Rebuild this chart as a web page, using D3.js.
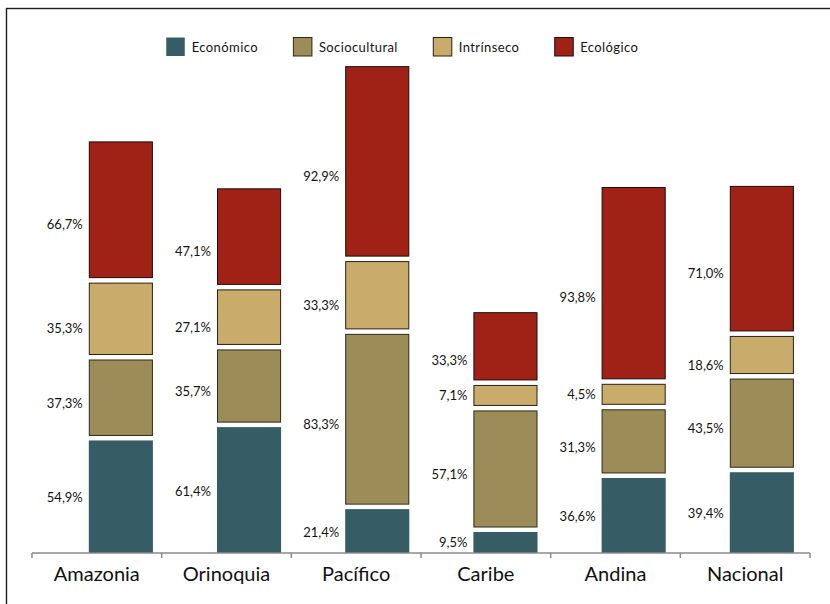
<!DOCTYPE html>
<html>
<head>
<meta charset="utf-8">
<script src="https://cdn.jsdelivr.net/npm/d3@7/dist/d3.min.js"></script>
<style>
  html, body { margin: 0; padding: 0; background: #fff; }
  svg { display: block; }
</style>
</head>
<body>
<svg id="chart" width="830" height="604"></svg>
<script>
// ---- data ----
const categories = ["Amazonia", "Orinoquia", "Pacífico", "Caribe", "Andina", "Nacional"];
const seriesNames = ["Económico", "Sociocultural", "Intrínseco", "Ecológico"];
const economico     = [54.9, 61.4, 21.4,  9.5, 36.6, 39.4];
const sociocultural = [37.3, 35.7, 83.3, 57.1, 31.3, 43.5];
const intrinseco    = [35.3, 27.1, 33.3,  7.1,  4.5, 18.6];
const ecologico     = [66.7, 47.1, 92.9, 33.3, 93.8, 71.0];

const seriesValues = [economico, sociocultural, intrinseco, ecologico];
const colors  = ["#365c65", "#9c8d58", "#c9ab6b", "#a02216"];
const strokes = [null, "#2e2818", "#2a2212", "#1a0c0a"];

// ---- layout ----
const svg = d3.select("#chart");
const baseY = 553;
const pxPerUnit = 2.05;
const gap = 4.5;          // white gap between stacked segments
const minSegPx = 21;      // minimum visible segment height

const y = d3.scaleLinear().domain([0, 250]).range([baseY, baseY - 250 * pxPerUnit]);
const xAxisBand = d3.scaleBand().domain(categories).range([32, 810]);
const xBar = d3.scaleBand().domain(categories)
  .range([88.8, 88.8 + 5.5 * 128.2]).paddingInner(0.5).paddingOuter(0).align(0);

const minVal = y.invert(baseY - minSegPx);

// rows for the stack (drawn values, with a minimum visible size)
const rows = categories.map((c, ci) => {
  const r = { cat: c };
  seriesNames.forEach((s, si) => { r[s] = Math.max(seriesValues[si][ci], minVal); });
  return r;
});
const stacked = d3.stack().keys(seriesNames)(rows);

// frame
svg.append("rect")
  .attr("x", 6.5).attr("y", 8.5).attr("width", 900).attr("height", 900)
  .attr("fill", "none").attr("stroke", "#1e1e1e").attr("stroke-width", 1.4);

// bars
stacked.forEach((layer, si) => {
  const g = svg.append("g");
  layer.forEach((d, ci) => {
    const cat = categories[ci];
    const x0 = xBar(cat), w = xBar.bandwidth();
    const top = y(d[1]) - si * gap;
    const bottom = y(d[0]) - si * gap;
    const st = strokes[si];
    const inset = st ? 0.5 : 0;
    g.append("rect")
      .attr("x", x0 + inset).attr("y", top + inset)
      .attr("width", w - 2 * inset).attr("height", bottom - top - 2 * inset)
      .attr("fill", colors[si])
      .attr("stroke", st || "none")
      .attr("stroke-width", st ? 1 : 0);
    // value label
    const v = seriesValues[si][ci];
    const enlarged = v < minVal;
    const ly = enlarged ? (top + bottom) / 2 : y((d[0] + d[1]) / 2) + 1;
    svg.append("text")
      .attr("x", x0 - 6)
      .attr("y", ly)
      .attr("dy", "0.36em")
      .attr("text-anchor", "end")
      .attr("font-family", "Lato, 'Open Sans', sans-serif")
      .attr("font-size", 13)
      .attr("fill", "#141414")
      .text(v.toFixed(1).replace(".", ",") + "%");
  });
});

// axis
const axisG = svg.append("g");
axisG.append("line")
  .attr("x1", xAxisBand.range()[0]).attr("x2", xAxisBand.range()[1])
  .attr("y1", baseY).attr("y2", baseY)
  .attr("stroke", "#8a8a8a").attr("stroke-width", 1.5);
const tickXs = categories.map(c => xAxisBand(c)).concat([xAxisBand.range()[1]]);
tickXs.forEach(tx => {
  axisG.append("line")
    .attr("x1", tx).attr("x2", tx).attr("y1", baseY).attr("y2", baseY + 5)
    .attr("stroke", "#8a8a8a").attr("stroke-width", 1.5);
});
categories.forEach(c => {
  axisG.append("text")
    .attr("x", xAxisBand(c) + xAxisBand.bandwidth() / 2)
    .attr("y", 581)
    .attr("text-anchor", "middle")
    .attr("font-family", "Lato, 'Open Sans', sans-serif")
    .attr("font-size", 20)
    .attr("fill", "#111")
    .text(c);
});

// legend
const legend = svg.append("g");
let cursor = 0;
seriesNames.forEach((s, si) => {
  const ig = legend.append("g");
  ig.append("rect")
    .attr("x", 0.5).attr("y", 0.5).attr("width", 18.5).attr("height", 18.5)
    .attr("fill", colors[si])
    .attr("stroke", strokes[si] || "none")
    .attr("stroke-width", strokes[si] ? 1 : 0);
  const t = ig.append("text")
    .attr("x", 26).attr("y", 10).attr("dy", "0.36em")
    .attr("font-family", "Lato, 'Open Sans', sans-serif")
    .attr("font-size", 13)
    .attr("letter-spacing", 0.4)
    .attr("fill", "#141414")
    .text(s);
  const tw = t.node().getComputedTextLength();
  ig.attr("transform", `translate(${cursor},0)`);
  cursor += 26 + tw + 35;
});
const legendWidth = cursor - 35;
legend.attr("transform", `translate(${402 - legendWidth / 2},37)`);
</script>
</body>
</html>
